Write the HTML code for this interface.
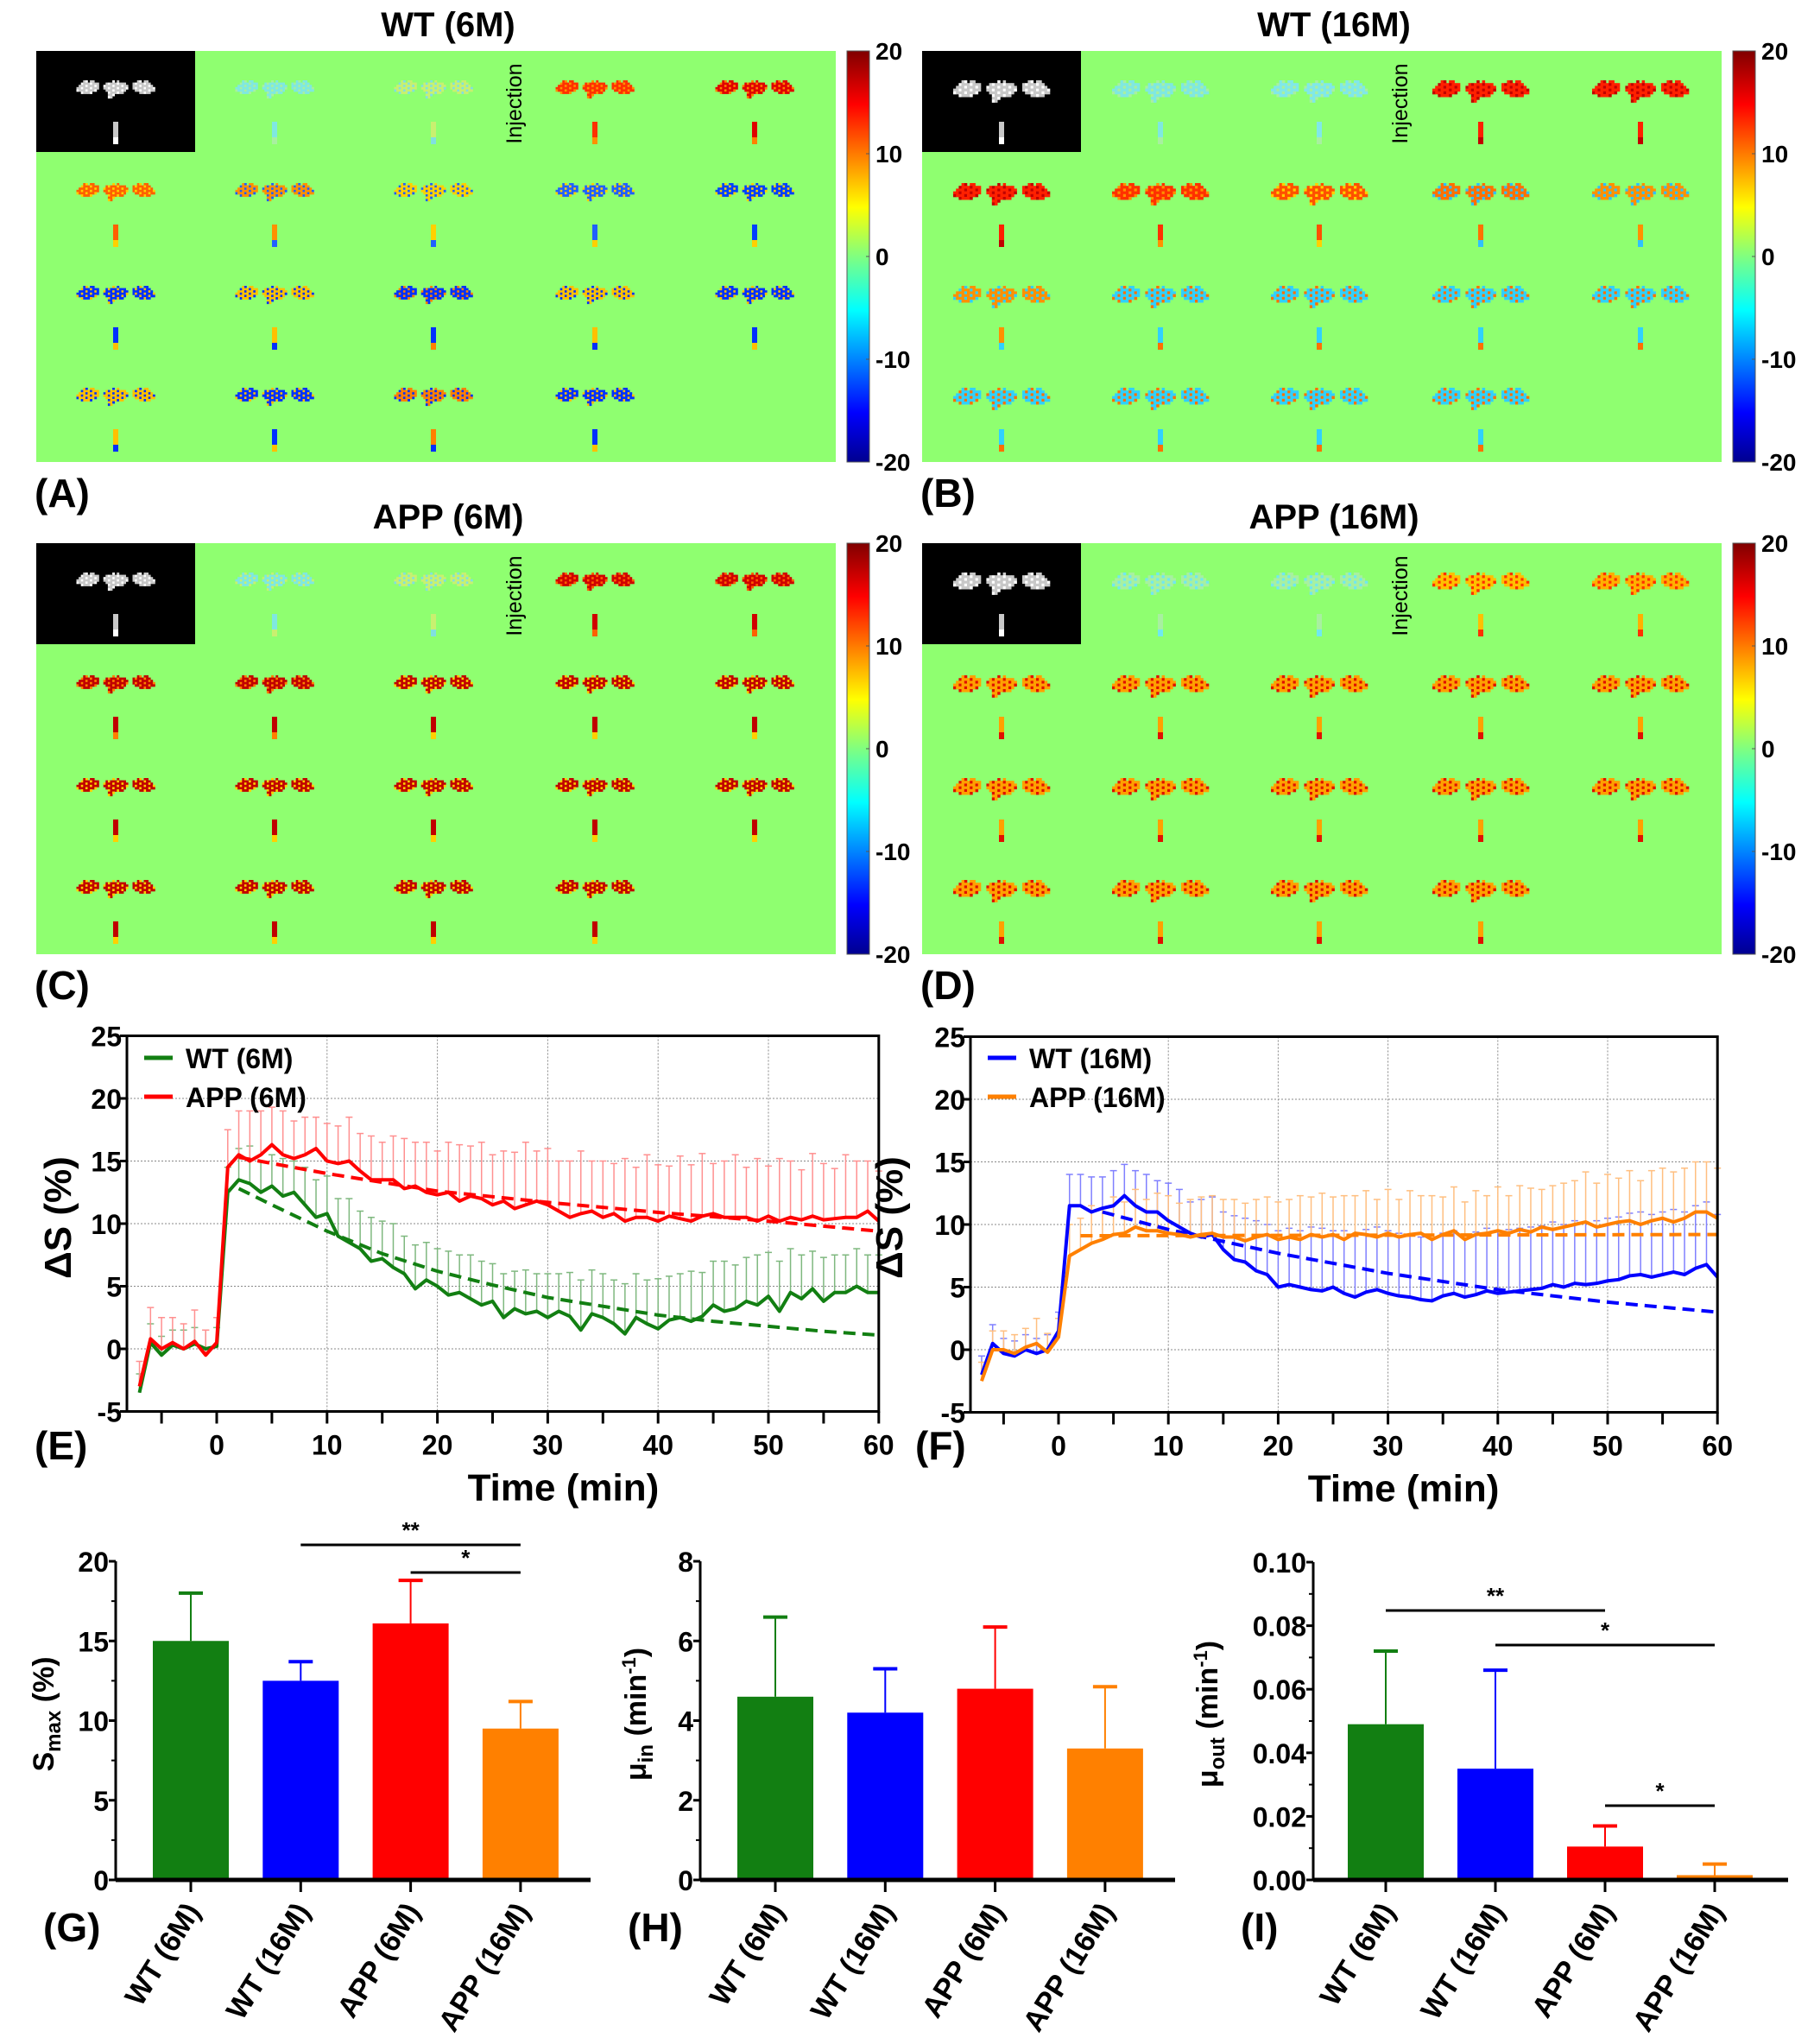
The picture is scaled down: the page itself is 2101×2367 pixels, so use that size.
<!DOCTYPE html>
<html><head><meta charset="utf-8"><style>
html,body{margin:0;padding:0;background:#fff;}
svg{display:block;font-family:"Liberation Sans",sans-serif;}
</style></head><body>
<svg id="fig" width="2101" height="2367" viewBox="0 0 2101 2367" xmlns="http://www.w3.org/2000/svg">
<defs>
<linearGradient id="jet" x1="0" y1="1" x2="0" y2="0">
<stop offset="0" stop-color="#00008f"/><stop offset="0.12" stop-color="#0000ff"/><stop offset="0.37" stop-color="#00ffff"/>
<stop offset="0.5" stop-color="#80ff80"/><stop offset="0.62" stop-color="#ffff00"/><stop offset="0.87" stop-color="#ff0000"/><stop offset="1" stop-color="#800000"/>
</linearGradient>
</defs>
</svg>
<script>
// ===== time-series data (minutes) =====
const times = [-7,-6,-5,-4,-3,-2,-1,0,1,2,3,4,5,6,7,8,9,10,11,12,13,14,15,16,17,18,19,20,21,22,23,24,25,26,27,28,29,30,31,32,33,34,35,36,37,38,39,40,41,42,43,44,45,46,47,48,49,50,51,52,53,54,55,56,57,58,59,60];
const wt6 = [-3.5,0.5,-0.5,0.3,0,0.4,0,0.2,12.5,13.5,13.2,12.5,13,12.2,12.5,11.5,10.5,10.8,9,8.5,8,7,7.2,6.5,6,4.8,5.5,5,4.3,4.5,4,3.5,3.8,2.5,3.2,2.8,3,2.5,3,2.6,1.5,2.8,2.5,2,1.2,2.5,2,1.6,2.3,2.5,2.2,2.6,3.5,3,3.2,3.8,3.5,4.2,3,4.5,4,4.8,3.8,4.5,4.5,5,4.5,4.5];
const wt6Err = [1.5,1.5,1.5,1.2,1.5,1.3,1.5,1.5,2,2.5,3,2.5,2.5,3,2.5,3,3,3,3,3.5,3,3.5,3,3.5,3,3.5,3,3,3.5,3,3.5,3.5,3,3.5,3,3.5,3,3.5,3,3.5,4,3.5,3.5,3.5,4,3.5,3.5,4,3.5,3.5,4,3.5,3.5,4,3.5,3.5,4,3.5,4,3.5,3.5,3,3.5,3,3,3,3,3];
const app6 = [-3,0.8,0,0.5,0,0.6,-0.5,0.5,14.5,15.5,15,15.5,16.3,15.5,15.2,15.5,16,15,14.8,15,14.2,13.5,13.5,13.5,12.8,13,12.5,12.3,12.5,11.8,12.2,12,11.5,11.8,11.2,11.5,11.8,11.5,11,10.5,10.8,11,10.5,10.8,10.2,10.5,10.5,10.2,10.6,10.4,10.2,10.6,10.8,10.5,10.5,10.5,10.2,10.6,10.2,10.5,10.3,10.6,10.3,10.4,10.5,10.5,11,10.2];
const app6Err = [2,2.5,2.5,2,2,2.5,2,2,3,3.5,4,3.5,3,3.5,3,3,2.5,3,3,3.5,3,3.5,3,3.5,4,3.5,4,3.5,4,4.5,4,4.5,4,4,4.5,5,4,4.5,4,4.5,5,4,4.5,4,5,4,5,4.5,4,5,4.5,5,4,4.5,5,4,5,4,5,4.5,4,5,4.5,4,5,4.5,4,4];
const wt6FitT = [2,5,10,15,20,25,30,35,40,45,50,55,60];
const wt6Fit = [12.8,11.5,9.4,7.6,6.2,5.1,4.1,3.4,2.7,2.2,1.8,1.4,1.1];
const app6FitT = [2,10,20,30,40,50,60];
const app6Fit = [15.3,14,12.6,11.7,10.9,10.2,9.4];

const wt16 = [-2,0.5,-0.3,-0.5,0,-0.3,0,1.5,11.5,11.5,11,11.3,11.5,12.3,11.5,11,11,10.3,9.8,9.3,9,9.2,8,7.2,7,6.3,6,5,5.2,5,4.8,4.7,5,4.5,4.2,4.6,4.8,4.5,4.3,4.2,4,3.9,4.3,4.5,4.2,4.4,4.7,4.5,4.6,4.7,4.8,4.9,5.2,5,5.3,5.2,5.3,5.5,5.6,5.9,6,5.8,6,6.2,6,6.5,6.8,5.8];
const wt16Err = [1.5,1.5,1.2,1.2,1.2,1.2,1.2,1.5,2.5,2.5,2.8,2.5,2.8,2.5,2.8,3,2.5,3,3,2.5,3,3,3,3.5,3.5,4,4,4.5,4.5,4.5,5,5,4.5,5,5,5,5,5,5,5,5,5,5,5,5,5,5,5,5,5,5,5,5,5,5,5,5,5,5,5,5,5,5,5,5,5,5,5];
const app16 = [-2.5,0,0,-0.3,0.2,0.5,-0.2,1,7.5,8,8.5,8.8,9.2,9.3,9.8,9.5,9.5,9.3,9.2,9,9.2,9.3,9,9,8.7,9,9.2,8.8,9,8.8,9.2,9,9.2,8.8,9.3,9.2,9,9.3,9,9.2,9.3,8.8,9.2,9.5,8.8,9.2,9.3,9.5,9.3,9.6,9.4,9.8,9.6,9.8,10,10.2,9.8,10,10.2,10.3,10,10.3,10.5,10.2,10.5,11,11,10.5];
const app16Err = [1.5,1.5,1.5,1.5,1.5,2,1.5,1.5,2.5,2.5,3,2.5,3,2.5,3,2.5,3,3,2.5,3,3,3,3,3,3,3,3,3,3,3.5,3,3.5,3,3.5,3,3.5,3,3.5,3,3.5,3,3.5,3,3.5,3,3.5,3,3.5,3,3.5,3.5,3,3.5,3.5,3.5,4,3.5,4,3.5,4,3.5,4,4,4,4,4,4,4];
const wt16FitT = [4,10,20,30,40,50,60];
const wt16Fit = [11,9.6,7.7,6.1,4.8,3.8,3.0];
const app16FitT = [2,60];
const app16Fit = [9.1,9.2];

// ===== bar-chart data =====
const groups = ["WT (6M)","WT (16M)","APP (6M)","APP (16M)"];
const smax = [15,12.5,16.1,9.5];
const smaxErr = [3.0,1.2,2.7,1.7];
const muIn = [4.6,4.2,4.8,3.3];
const muInErr = [2.0,1.1,1.55,1.55];
const muOut = [0.049,0.035,0.0105,0.0015];
const muOutErr = [0.023,0.031,0.0065,0.0035];
const smaxTicks = [0,5,10,15,20];
const muInTicks = [0,2,4,6,8];
const muOutTicks = [0,0.02,0.04,0.06,0.08,0.10];
const tsYTicks = [-5,0,5,10,15,20,25];
const tsXTicks = [0,10,20,30,40,50,60];
const cbTicks = [20,10,0,-10,-20];

const barColors = ["#127f12","#0000ff","#ff0000","#ff8000"];
const NS = "http://www.w3.org/2000/svg";
const svg = document.getElementById("fig");
function mk(tag, attrs, parent){
  const e = document.createElementNS(NS, tag);
  for (const k in attrs) e.setAttribute(k, attrs[k]);
  (parent||svg).appendChild(e);
  return e;
}
function txt(s, attrs, parent){ const e = mk("text", attrs, parent); e.textContent = s; return e; }

// ===== heatmap panels =====
const mask = [
"...##.##........#.#........##.##...",
"..########...#########...########..",
".#########..###########..#########.",
"##########..###########..##########",
"#########....#########....#########",
"..#####.......#######.......#####..",
"..............###..................",
"..............##..................."];
const panels = [
 {name:"wt-6m", title:"WT (6M)", label:"(A)", dx:0, dy:0, px:2.6, tiles:[
  ["#c8c8c8","#ffffff"],["#7fe8e0","#a8f0a0"],["#c8f070","#80e0e0"],["#ff3000","#ff9000"],["#e00000","#ff8000"],
  ["#ff6000","#ffd000"],["#ff9000","#2060ff"],["#ffd000","#2060ff"],["#2060ff","#ffd000"],["#0040ff","#ffd000"],
  ["#0030ff","#ffc000"],["#ffc000","#0030ff"],["#0030ff","#ff8000"],["#ffc000","#0030ff"],["#0030ff","#ffc000"],
  ["#ffc000","#0030ff"],["#0030ff","#ffc000"],["#ff8000","#0030ff"],["#0030ff","#ffc000"]]},
 {name:"wt-16m", title:"WT (16M)", label:"(B)", dx:1026, dy:0, px:3.2, tiles:[
  ["#c8c8c8","#ffffff"],["#7fe8e0","#a8f0a0"],["#80e8e8","#a8f0a0"],["#ff2000","#c00000"],["#ff2000","#c00000"],
  ["#ff2000","#c00000"],["#ff3000","#ff9000"],["#ff5000","#ffd000"],["#ff7000","#30c0ff"],["#ff9000","#30c0ff"],
  ["#ff9000","#30d0ff"],["#30d0ff","#ff7000"],["#30d0ff","#ff7000"],["#30d0ff","#ff7000"],["#30d0ff","#ff7000"],
  ["#30d0ff","#ff7000"],["#30d0ff","#ff7000"],["#30d0ff","#ff7000"],["#30d0ff","#ff7000"]]},
 {name:"app-6m", title:"APP (6M)", label:"(C)", dx:0, dy:570, px:2.6, tiles:[
  ["#c8c8c8","#ffffff"],["#7fe8e0","#c8f070"],["#c8f070","#80e0e0"],["#d00000","#ff6000"],["#d00000","#ff6000"],
  ["#c00000","#ff8000"],["#c00000","#ff8000"],["#c00000","#ffd000"],["#c00000","#ffd000"],["#c00000","#ffd000"],
  ["#c00000","#ffd000"],["#c00000","#ffd000"],["#c00000","#ffd000"],["#c00000","#ffd000"],["#c00000","#ffd000"],
  ["#c00000","#ffd000"],["#c00000","#ffd000"],["#c00000","#ffd000"],["#c00000","#ffd000"]]},
 {name:"app-16m", title:"APP (16M)", label:"(D)", dx:1026, dy:570, px:3.2, tiles:[
  ["#c8c8c8","#ffffff"],["#a8f0a0","#70e8f0"],["#a8f0a0","#70e8f0"],["#ffc000","#ff3000"],["#ffb000","#ff3000"],
  ["#ffa000","#e01000"],["#ffa000","#e01000"],["#ffa000","#e01000"],["#ffa000","#e01000"],["#ffa000","#e01000"],
  ["#ffa000","#e01000"],["#ffa000","#e01000"],["#ffa000","#e01000"],["#ffa000","#e01000"],["#ffa000","#e01000"],
  ["#ffa000","#e01000"],["#ffa000","#e01000"],["#ffa000","#e01000"],["#ffa000","#e01000"]]}
];
const colX = [134,318,502,689,874];
const rowY = [103,222,341,459];
panels.forEach(p => {
  const g = mk("g", {});
  
  
  const t = txt(p.title, {x:519+p.dx, y:42+p.dy, "font-size":40, "font-weight":"bold", "text-anchor":"middle"}, g);
  
  
  const bg = mk("rect", {x:42+p.dx, y:59+p.dy, width:926, height:476, fill:"#8fff70"}, g);
  
  
  const blk = mk("rect", {x:42+p.dx, y:59+p.dy, width:184, height:117, fill:"#000"}, g);
  
  
  p.tiles.forEach((c, i) => {
    const cx = colX[i%5] + p.dx, cy = rowY[Math.floor(i/5)] + p.dy;
    const tg = mk("g", {}, g);
    
    
    const s = p.px, w = mask[0].length*s;
    mask.forEach((row, r) => {
      for (let k=0;k<row.length;k++) if (row[k]==="#") {
        mk("rect", {x:cx - w/2 + k*s, y:cy - 10 + r*s, width:s+0.3, height:s+0.3, fill: ((k+r*2)%4===0)?c[1]:c[0]}, tg);
      }
    });
    mk("rect", {x:cx-3, y:cy+38, width:6, height:26, fill:c[0]}, tg);
    mk("rect", {x:cx-3, y:cy+56, width:6, height:8, fill:c[1]}, tg);
  });
  const inj = txt("Injection", {x:0, y:0, "font-size":25, transform:`translate(${604+p.dx},${120+p.dy}) rotate(-90)`, "text-anchor":"middle"}, g);
  
  
  const cb = mk("rect", {x:981+p.dx, y:59+p.dy, width:26, height:476, fill:"url(#jet)", stroke:"#555", "stroke-width":1}, g);
  
  
  cbTicks.forEach(v => {
    const yy = 59 + p.dy + (20 - v)/40*476;
    mk("line", {x1:1003+p.dx, x2:1007+p.dx, y1:yy, y2:yy, stroke:"#555"}, g);
    const l = txt(String(v), {x:1014+p.dx, y:yy+10, "font-size":28, "font-weight":"bold"}, g);
    
    
  });
  const lab = txt(p.label, {x:40+p.dx, y:587+p.dy, "font-size":46, "font-weight":"bold"}, g);
  
  
});

// ===== time-series charts =====
function tsChart(cfg){
  const g = mk("g", {});
  
  
  const X = t => cfg.x0 + t*cfg.kx;
  const Y = v => cfg.y0 - v*cfg.ky;
  const L = cfg.left, R = X(60), T = Y(25), B = Y(-5);
  tsXTicks.forEach(t => { if (t>0) mk("line", {x1:X(t),x2:X(t),y1:T,y2:B,stroke:"#888","stroke-dasharray":"2,2","stroke-width":1}, g); });
  tsYTicks.forEach(v => { if (v>-5 && v<25) mk("line", {x1:L,x2:R,y1:Y(v),y2:Y(v),stroke:"#888","stroke-dasharray":"2,2","stroke-width":1}, g); });
  cfg.series.forEach(s => {
    s.vals.forEach((v,i) => {
      const x = X(times[i]), y1 = Y(v), y2 = Y(v + s.err[i]);
      mk("line", {x1:x,x2:x,y1:y1,y2:y2,stroke:s.light,"stroke-width":1.5}, g);
      mk("line", {x1:x-4,x2:x+4,y1:y2,y2:y2,stroke:s.light,"stroke-width":1.5}, g);
    });
  });
  cfg.series.forEach(s => {
    const fit = mk("polyline", {points:s.fitT.map((t,i)=>X(t)+","+Y(s.fit[i])).join(" "), fill:"none", stroke:s.color, "stroke-width":4, "stroke-dasharray":"14,8"}, g);
    
    
    const ln = mk("polyline", {points:s.vals.map((v,i)=>X(times[i])+","+Y(v)).join(" "), fill:"none", stroke:s.color, "stroke-width":4, "stroke-linejoin":"round"}, g);
    
    
  });
  const box = mk("rect", {x:L, y:T, width:R-L, height:B-T, fill:"none", stroke:"#000", "stroke-width":3}, g);
  
  
  tsYTicks.forEach(v => {
    mk("line", {x1:L-8,x2:L,y1:Y(v),y2:Y(v),stroke:"#000","stroke-width":3}, g);
    const l = txt(String(v), {x:L-6, y:Y(v)+12, "font-size":32, "font-weight":"bold", "text-anchor":"end"}, g);
    
    
  });
  for (let t=-5; t<=60; t+=5) mk("line", {x1:X(t),x2:X(t),y1:B,y2:B+14,stroke:"#000","stroke-width":3}, g);
  tsXTicks.forEach(t => {
    const l = txt(String(t), {x:X(t), y:B+50, "font-size":32, "font-weight":"bold", "text-anchor":"middle"}, g);
    
    
  });
  const xt = txt("Time (min)", {x:(X(0)+X(60))/2+18, y:B+103, "font-size":44, "font-weight":"bold", "text-anchor":"middle"}, g);
  
  
  const yt = txt("ΔS (%)", {x:0, y:0, "font-size":44, "font-weight":"bold", "text-anchor":"middle", transform:`translate(${cfg.ylabX},1410) rotate(-90)`}, g);
  
  
  cfg.series.forEach((s,i) => {
    const yy = 1225 + i*45;
    const le = mk("g", {}, g);
    
    
    mk("line", {x1:L+20,x2:L+53,y1:yy,y2:yy,stroke:s.color,"stroke-width":5}, le);
    txt(s.label, {x:L+68, y:yy+12, "font-size":32, "font-weight":"bold"}, le);
  });
  const pl = txt(cfg.panel, {x:cfg.panelX, y:1690, "font-size":46, "font-weight":"bold"}, g);
  
  
}
tsChart({name:"chart-e-6m", x0:251, kx:12.78, y0:1562, ky:14.5, left:147, ylabX:82, panel:"(E)", panelX:40, series:[
  {label:"WT (6M)", vals:wt6, err:wt6Err, fit:wt6Fit, fitT:wt6FitT, color:"#127f12", light:"#7fb87f"},
  {label:"APP (6M)", vals:app6, err:app6Err, fit:app6Fit, fitT:app6FitT, color:"#ff0000", light:"#ff9090"}]});
tsChart({name:"chart-f-16m", x0:1226, kx:12.72, y0:1563, ky:14.5, left:1124, ylabX:1045, panel:"(F)", panelX:1060, series:[
  {label:"WT (16M)", vals:wt16, err:wt16Err, fit:wt16Fit, fitT:wt16FitT, color:"#0000ff", light:"#8080ff"},
  {label:"APP (16M)", vals:app16, err:app16Err, fit:app16Fit, fitT:app16FitT, color:"#ff8000", light:"#ffbf80"}]});

// ===== bar charts =====
function barChart(cfg){
  const g = mk("g", {});
  
  
  const y0 = 2177, yTop = cfg.yTop;
  const Y = v => y0 - v/cfg.max*(y0-yTop);
  const X = i => cfg.x0 + i*cfg.step;
  cfg.vals.forEach((v,i) => {
    const c = barColors[i];
    const e = mk("line", {x1:X(i),x2:X(i),y1:Y(v),y2:Y(v+cfg.err[i]),stroke:c,"stroke-width":2}, g);
    
    
    mk("line", {x1:X(i)-14,x2:X(i)+14,y1:Y(v+cfg.err[i]),y2:Y(v+cfg.err[i]),stroke:c,"stroke-width":4}, g);
    const b = mk("rect", {x:X(i)-44, y:Y(v), width:88, height:y0-Y(v), fill:c}, g);
    
    
  });
  mk("line", {x1:cfg.axisX, x2:cfg.axisX, y1:yTop, y2:y0, stroke:"#000", "stroke-width":3}, g);
  mk("line", {x1:cfg.axisX, x2:cfg.axisX+550, y1:y0, y2:y0, stroke:"#000", "stroke-width":5}, g);
  cfg.ticks.forEach((v,i) => {
    mk("line", {x1:cfg.axisX-8,x2:cfg.axisX,y1:Y(v),y2:Y(v),stroke:"#000","stroke-width":3}, g);
    if (i < cfg.ticks.length-1) { const m=(v+cfg.ticks[i+1])/2; mk("line", {x1:cfg.axisX-5,x2:cfg.axisX,y1:Y(m),y2:Y(m),stroke:"#000","stroke-width":2}, g); }
    const l = txt(cfg.fmt(v), {x:cfg.axisX-8, y:Y(v)+12, "font-size":32, "font-weight":"bold", "text-anchor":"end"}, g);
    
    
  });
  groups.forEach((name,i) => {
    mk("line", {x1:X(i),x2:X(i),y1:y0,y2:y0+14,stroke:"#000","stroke-width":3}, g);
    const l = txt(name, {x:0, y:0, "font-size":34, "font-weight":"bold", "text-anchor":"end", transform:`translate(${X(i)+12},${y0+36}) rotate(-58)`}, g);
    
    
  });
  const yt = mk("text", {x:0, y:0, "font-size":34, "font-weight":"bold", "text-anchor":"middle", transform:`translate(${cfg.ylabX},1985) rotate(-90)`}, g);
  yt.innerHTML = cfg.ylab;
  
  
  cfg.sig.forEach(s => {
    const sg = mk("g", {}, g);
    
    
    mk("line", {x1:X(s[0]), x2:X(s[1]), y1:s[2], y2:s[2], stroke:"#000", "stroke-width":3}, sg);
    txt(s[3], {x:(X(s[0])+X(s[1]))/2, y:s[2]-8, "font-size":26, "font-weight":"bold", "text-anchor":"middle"}, sg);
  });
  const pl = txt(cfg.panel, {x:cfg.axisX-84, y:2248, "font-size":46, "font-weight":"bold"}, g);
  
  
}
barChart({name:"chart-g-smax", vals:smax, err:smaxErr, ticks:smaxTicks, max:20, yTop:1808, axisX:134, ylabX:62, x0:221, step:127.3, fmt:v=>String(v),
  ylab:'S<tspan font-size="24" dy="8">max</tspan><tspan dy="-8"> (%)</tspan>', panel:"(G)", sig:[[1,3,1789,"**"],[2,3,1821,"*"]]});
barChart({name:"chart-h-mu-in", vals:muIn, err:muInErr, ticks:muInTicks, max:8, yTop:1808, axisX:811, ylabX:748, x0:898, step:127.3, fmt:v=>String(v),
  ylab:'μ<tspan font-size="24" dy="8">in</tspan><tspan dy="-8"> (min</tspan><tspan font-size="22" dy="-12">-1</tspan><tspan dy="12">)</tspan>', panel:"(H)", sig:[]});
barChart({name:"chart-i-mu-out", vals:muOut, err:muOutErr, ticks:muOutTicks, max:0.10, yTop:1809, axisX:1521, ylabX:1410, x0:1605, step:127, fmt:v=>v.toFixed(2),
  ylab:'μ<tspan font-size="24" dy="8">out</tspan><tspan dy="-8"> (min</tspan><tspan font-size="22" dy="-12">-1</tspan><tspan dy="12">)</tspan>', panel:"(I)", sig:[[0,2,1865,"**"],[1,3,1905,"*"],[2,3,2091,"*"]]});
</script>
</body></html>
